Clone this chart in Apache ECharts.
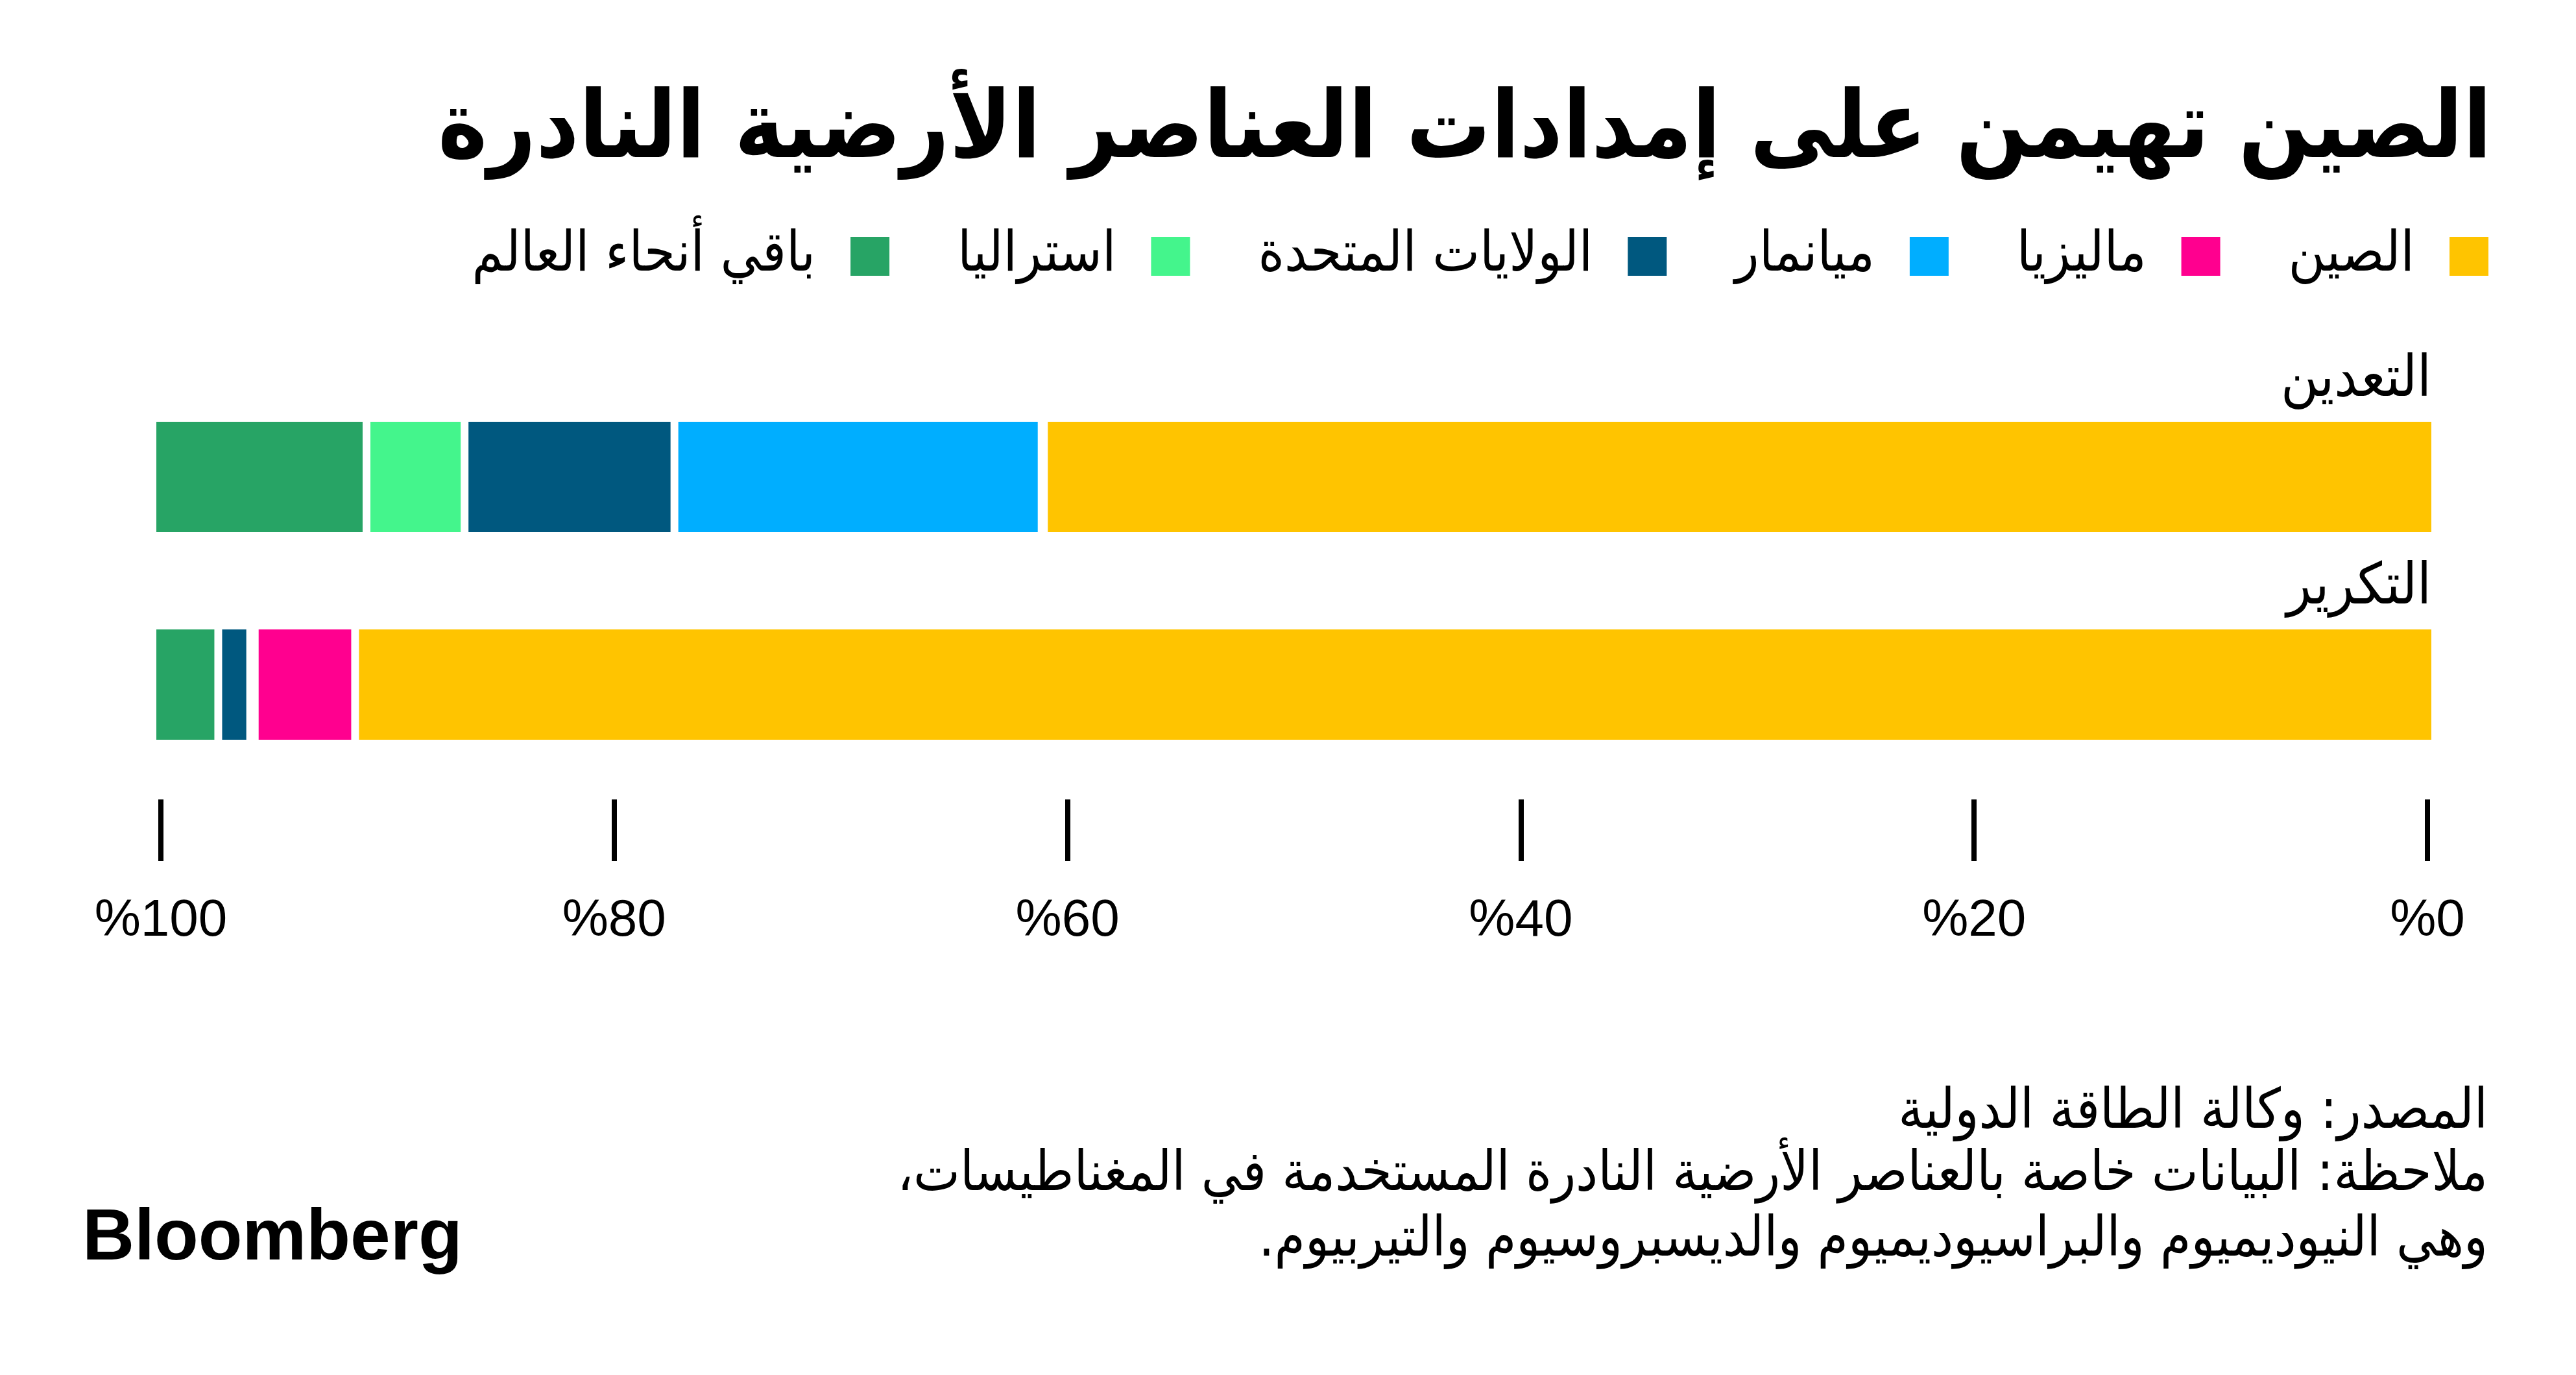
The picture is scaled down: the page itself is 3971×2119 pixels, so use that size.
<!DOCTYPE html>
<html lang="ar">
<head>
<meta charset="utf-8">
<title>الصين تهيمن على إمدادات العناصر الأرضية النادرة</title>
<script src="https://cdn.jsdelivr.net/npm/echarts@6/dist/echarts.min.js"></script>
<style>
  html, body { margin: 0; padding: 0; background: #ffffff; }
  #MainContent { width: 3971px; height: 2119px; }
</style>
</head>
<body>
<div id="MainContent"></div>
<script>
// stages (rows) and producers (stack segments), shares in %
var categories = ['التعدين', 'التكرير'];
var producers = ['الصين', 'ماليزيا', 'ميانمار', 'الولايات المتحدة', 'استراليا', 'باقي أنحاء العالم'];
var producerColors = ['#FFC400', '#FF008F', '#00AEFF', '#00587F', '#44F58C', '#27A465'];

var china = [61.0, 91.2];
var malaysia = [0.1, 4.4];
var myanmar = [16.1, 0.2];
var usa = [9.2, 1.4];
var australia = [4.3, 0];
var restOfWorld = [9.4, 3.1];

var tickStep = 20;

var arabicFont = "'DejaVu Sans Condensed', 'DejaVu Sans', sans-serif";
var latinFont = "'Liberation Sans', Arial, sans-serif";
var RLM = '\u200F'; // keeps trailing punctuation on the left end of Arabic lines

function draw() {
    var chart = echarts.init(document.getElementById('MainContent'), null, { renderer: 'canvas' });

    var values = [china, malaysia, myanmar, usa, australia, restOfWorld];
    var series = producers.map(function (name, i) {
        return {
            name: name,
            type: 'bar',
            stack: 'share',
            xAxisIndex: 0,
            yAxisIndex: 0,
            barWidth: 182,
            itemStyle: { color: producerColors[i], borderColor: '#ffffff', borderWidth: 6 },
            emphasis: { disabled: true },
            data: values[i]
        };
    });

    var option = {
        backgroundColor: '#ffffff',
        animation: false,
        title: {
            text: 'الصين تهيمن على إمدادات العناصر الأرضية النادرة',
            right: 125,
            top: 128,
            textStyle: { fontFamily: arabicFont, fontWeight: 'bold', fontSize: 144, color: '#000000' }
        },
        legend: {
            data: producers.slice().reverse(),
            right: 128,
            top: 347,
            orient: 'horizontal',
            align: 'right',
            icon: 'rect',
            itemWidth: 62,
            itemHeight: 62,
            itemGap: 103,
            selectedMode: false,
            textStyle: { fontFamily: arabicFont, fontSize: 86, color: '#000000', padding: [0, 48, 0, 0] }
        },
        grid: [
            { left: 238, right: 217, top: 575, height: 640 },
            { left: 248, right: 229, top: 1231, height: 1 }
        ],
        xAxis: [
            { type: 'value', gridIndex: 0, inverse: true, min: 0, max: 100, show: false },
            {
                type: 'value', gridIndex: 1, inverse: true, min: 0, max: 100, interval: tickStep,
                position: 'bottom',
                axisLine: { show: false },
                splitLine: { show: false },
                axisTick: { show: true, length: 95, lineStyle: { color: '#000000', width: 8 } },
                axisLabel: {
                    margin: 148,
                    fontFamily: latinFont, fontSize: 80, color: '#000000',
                    formatter: function (v) { return '%' + v; }
                }
            }
        ],
        yAxis: [
            {
                type: 'category', gridIndex: 0, data: categories, inverse: true, position: 'right',
                axisLine: { show: false }, axisTick: { show: false }, splitLine: { show: false },
                axisLabel: {
                    inside: true, margin: 6, align: 'right', verticalAlign: 'bottom',
                    padding: [0, 0, 104, 0],
                    fontFamily: arabicFont, fontSize: 88, color: '#000000'
                }
            },
            { type: 'value', gridIndex: 1, show: false, min: 0, max: 1 }
        ],
        graphic: [
            {
                type: 'text', right: 136, top: 1673,
                style: { text: 'المصدر: وكالة الطاقة الدولية', font: '85px ' + arabicFont, fill: '#000000' }
            },
            {
                type: 'text', right: 136, top: 1769,
                style: { text: 'ملاحظة: البيانات خاصة بالعناصر الأرضية النادرة المستخدمة في المغناطيسات،' + RLM, font: '85px ' + arabicFont, fill: '#000000' }
            },
            {
                type: 'text', right: 136, top: 1870,
                style: { text: 'وهي النيوديميوم والبراسيوديميوم والديسبروسيوم والتيربيوم.' + RLM, font: '85px ' + arabicFont, fill: '#000000' }
            },
            {
                type: 'text', left: 127, top: 1855,
                style: { text: 'Bloomberg', font: 'bold 111px ' + latinFont, fill: '#000000' }
            }
        ],
        series: series
    };

    chart.setOption(option);
    window.onresize = chart.resize;
}

draw();
</script>
</body>
</html>
